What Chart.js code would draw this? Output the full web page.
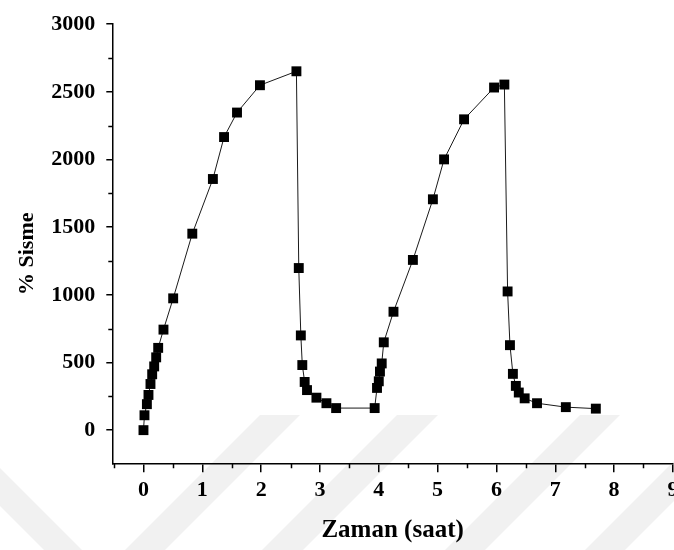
<!DOCTYPE html>
<html>
<head>
<meta charset="utf-8">
<script src="https://cdn.jsdelivr.net/npm/chart.js@4.4.1/dist/chart.umd.min.js"></script>
<style>
  html, body { margin: 0; padding: 0; background: #fff; overflow: hidden; }
  #wrap { width: 674px; height: 550px; overflow: hidden; }
  canvas { display: block; }
</style>
</head>
<body>
<div id="wrap"><canvas id="c" width="700" height="550" style="width:700px;height:550px"></canvas></div>
<script>
// Swelling (%) of the gel over two swell / deswell cycles
const hours = [
  0, 0.017, 0.058, 0.085, 0.119, 0.148, 0.182, 0.216, 0.25, 0.34, 0.505,
  0.83, 1.18, 1.37, 1.59, 1.98, 2.60,
  2.64, 2.675, 2.70, 2.74, 2.78, 2.94, 3.11, 3.275,
  3.93, 3.97, 4.0, 4.02, 4.05, 4.085, 4.25, 4.58, 4.92, 5.11, 5.45, 5.96, 6.135,
  6.19, 6.23, 6.28, 6.33, 6.38, 6.48, 6.69, 7.18, 7.69
];
const swelling = [
  0, 110, 192, 260, 341, 413, 471, 538, 608, 743, 974,
  1452, 1856, 2166, 2347, 2549, 2652,
  1198, 700, 481, 356, 296, 240, 199, 163,
  163, 312, 361, 433, 493, 649, 875, 1258, 1706, 2001, 2297, 2532, 2554,
  1025, 628, 416, 327, 278, 235, 199, 170, 159
];

const xMajorTicks = [0, 1, 2, 3, 4, 5, 6, 7, 8, 9];
const xMinorTicks = [-0.5, 0.5, 1.5, 2.5, 3.5, 4.5, 5.5, 6.5, 7.5, 8.5];
const yMajorTicks = [0, 500, 1000, 1500, 2000, 2500, 3000];
const yMinorTicks = [250, 750, 1250, 1750, 2250, 2750];

const xTitle = 'Zaman (saat)';
const yTitle = '% Sisme';

const points = hours.map((h, i) => ({ x: h, y: swelling[i] }));
const serif = '"Liberation Serif", "Times New Roman", serif';

// pale diagonal background pattern
const backdrop = {
  id: 'backdrop',
  beforeDraw(chart) {
    const ctx = chart.ctx;
    ctx.save();
    ctx.fillStyle = '#f1f1f1';
    const shapes = [
      [[0, 468], [82, 550], [44, 550], [0, 506]],
      [[125, 550], [260, 415], [300, 415], [165, 550]],
      [[262, 550], [397, 415], [438, 415], [303, 550]],
      [[445, 550], [580, 415], [620, 415], [485, 550]],
      [[585, 550], [700, 435], [700, 475], [625, 550]]
    ];
    shapes.forEach(s => {
      ctx.beginPath();
      ctx.moveTo(s[0][0], s[0][1]);
      for (let i = 1; i < s.length; i++) ctx.lineTo(s[i][0], s[i][1]);
      ctx.closePath();
      ctx.fill();
    });
    ctx.restore();
  }
};

// minor ticks and axis titles
const decorations = {
  id: 'decorations',
  afterDraw(chart) {
    const ctx = chart.ctx;
    const xs = chart.scales.x, ys = chart.scales.y;
    const area = chart.chartArea;
    ctx.save();
    ctx.strokeStyle = '#000';
    ctx.lineWidth = 1.5;
    ctx.beginPath();
    xMinorTicks.forEach(v => {
      const px = Math.round(xs.getPixelForValue(v)) + 0.5;
      ctx.moveTo(px, area.bottom);
      ctx.lineTo(px, area.bottom + 5);
    });
    yMinorTicks.forEach(v => {
      const py = Math.round(ys.getPixelForValue(v)) + 0.5;
      ctx.moveTo(area.left, py);
      ctx.lineTo(area.left - 4, py);
    });
    ctx.stroke();

    ctx.fillStyle = '#000';
    ctx.textAlign = 'center';
    ctx.textBaseline = 'alphabetic';
    ctx.font = 'bold 25px ' + serif;
    ctx.fillText(xTitle, (area.left + area.right) / 2, area.bottom + 74);

    ctx.font = 'bold 22px ' + serif;
    ctx.translate(33.3, (area.top + area.bottom) / 2 + 10);
    ctx.rotate(-Math.PI / 2);
    ctx.fillText(yTitle, 0, 0);
    ctx.restore();
  }
};

new Chart(document.getElementById('c'), {
  type: 'scatter',
  data: {
    datasets: [{
      data: points,
      showLine: true,
      borderColor: '#1a1a1a',
      borderWidth: 1,
      pointStyle: 'rect',
      pointRadius: 7,
      pointBackgroundColor: '#000',
      pointBorderWidth: 0,
      tension: 0,
      clip: false
    }]
  },
  options: {
    responsive: false,
    animation: false,
    events: [],
    layout: { padding: { left: 50.3, right: 27.1, top: 13.3, bottom: 0 } },
    plugins: { legend: { display: false }, tooltip: { enabled: false } },
    scales: {
      x: {
        type: 'linear',
        min: -0.53,
        max: 9,
        afterBuildTicks: s => { s.ticks = xMajorTicks.map(v => ({ value: v })); },
        afterFit: s => { s.height = 86.7; },
        border: { display: true, color: '#000', width: 1.5 },
        grid: { drawOnChartArea: false, drawTicks: true, tickLength: 9, color: '#000', lineWidth: 1.5 },
        ticks: {
          autoSkip: false,
          maxRotation: 0,
          padding: 5,
          color: '#000',
          font: { family: serif, size: 22, weight: 'bold' },
          callback: v => String(v)
        }
      },
      y: {
        type: 'linear',
        min: -245,
        max: 3000,
        afterBuildTicks: s => { s.ticks = yMajorTicks.map(v => ({ value: v })); },
        afterFit: s => { s.width = 62; },
        border: { display: true, color: '#000', width: 1.5 },
        grid: { drawOnChartArea: false, drawTicks: true, tickLength: 6, color: '#000', lineWidth: 1.5 },
        ticks: {
          autoSkip: false,
          padding: 11,
          color: '#000',
          font: { family: serif, size: 22, weight: 'bold' },
          callback: v => String(v)
        }
      }
    }
  },
  plugins: [backdrop, decorations]
});
</script>
</body>
</html>
